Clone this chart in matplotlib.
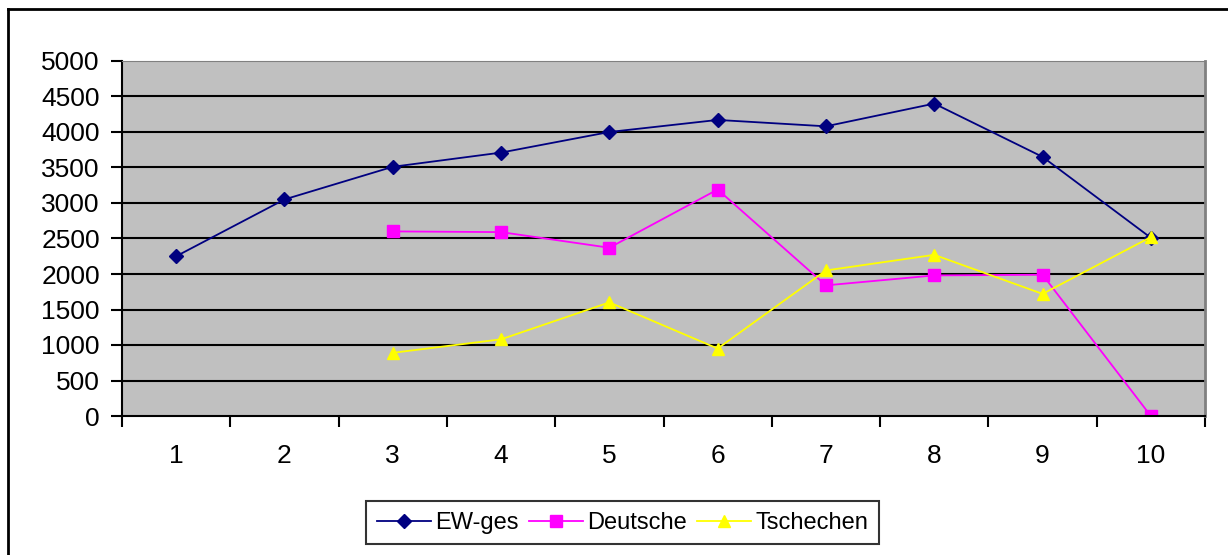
import matplotlib.pyplot as plt
import numpy as np
from matplotlib.lines import Line2D
from matplotlib.ticker import FixedLocator, NullFormatter, FixedFormatter

plt.rcParams['font.family'] = ['Liberation Sans', 'DejaVu Sans']

categories = [1, 2, 3, 4, 5, 6, 7, 8, 9, 10]
ew_ges = [2250, 3050, 3510, 3710, 4000, 4170, 4080, 4400, 3650, 2510]
deutsche = [np.nan, np.nan, 2600, 2590, 2370, 3190, 1840, 1980, 1990, 0]
tschechen = [np.nan, np.nan, 890, 1080, 1600, 950, 2050, 2270, 1720, 2520]

fig = plt.figure(figsize=(12.28, 5.55), dpi=100)
# outer chart border (only left and top visible in the crop)
bx, by = 8 / 1228, 1 - 9 / 555
fig.lines.append(Line2D([bx, bx], [0, by], transform=fig.transFigure, color='black', lw=2))
fig.lines.append(Line2D([bx, 1], [by, by], transform=fig.transFigure, color='black', lw=2))

ax = fig.add_axes([122 / 1228, 1 - 416 / 555, (1205 - 122) / 1228, (416 - 61) / 555])
ax.set_facecolor('#C0C0C0')

x = np.arange(len(categories)) + 1
ax.plot(x, ew_ges, color='#000080', lw=1.3, marker='D', ms=7, label='EW-ges')
ax.plot(x, deutsche, color='#FF00FF', lw=1.3, marker='s', ms=8, label='Deutsche')
ax.plot(x, tschechen, color='#FFFF00', lw=1.3, marker='^', ms=9, label='Tschechen')

ax.set_xlim(0.5, 10.5)
ax.set_ylim(0, 5000)
ax.set_yticks(np.arange(0, 5001, 500))
for v in range(500, 5000, 500):
    ax.axhline(v, color='black', lw=1.5, zorder=0.5)

ax.xaxis.set_major_locator(FixedLocator(np.arange(0.5, 11, 1)))
ax.xaxis.set_major_formatter(NullFormatter())
ax.xaxis.set_minor_locator(FixedLocator(x))
ax.xaxis.set_minor_formatter(FixedFormatter([str(c) for c in categories]))
ax.tick_params(axis='x', which='major', direction='out', length=8, width=1.5)
ax.tick_params(axis='x', which='minor', length=0, pad=20, labelsize=19)
ax.tick_params(axis='y', direction='out', length=8, width=1.5, labelsize=19, pad=8)

ax.spines['left'].set_linewidth(1.5)
ax.spines['bottom'].set_linewidth(1.5)
ax.spines['top'].set_color('#808080')
ax.spines['right'].set_color('#808080')
ax.spines['right'].set_linewidth(2)

leg = fig.legend(loc='center', bbox_to_anchor=(0.507, 0.058), ncol=3, fontsize=17,
                 frameon=True, fancybox=False, edgecolor='black', handlelength=2.3,
                 columnspacing=0.4, handletextpad=0.2, borderpad=0.45, borderaxespad=0)
leg.get_frame().set_linewidth(1.5)

fig.savefig('out.png', dpi=100)
